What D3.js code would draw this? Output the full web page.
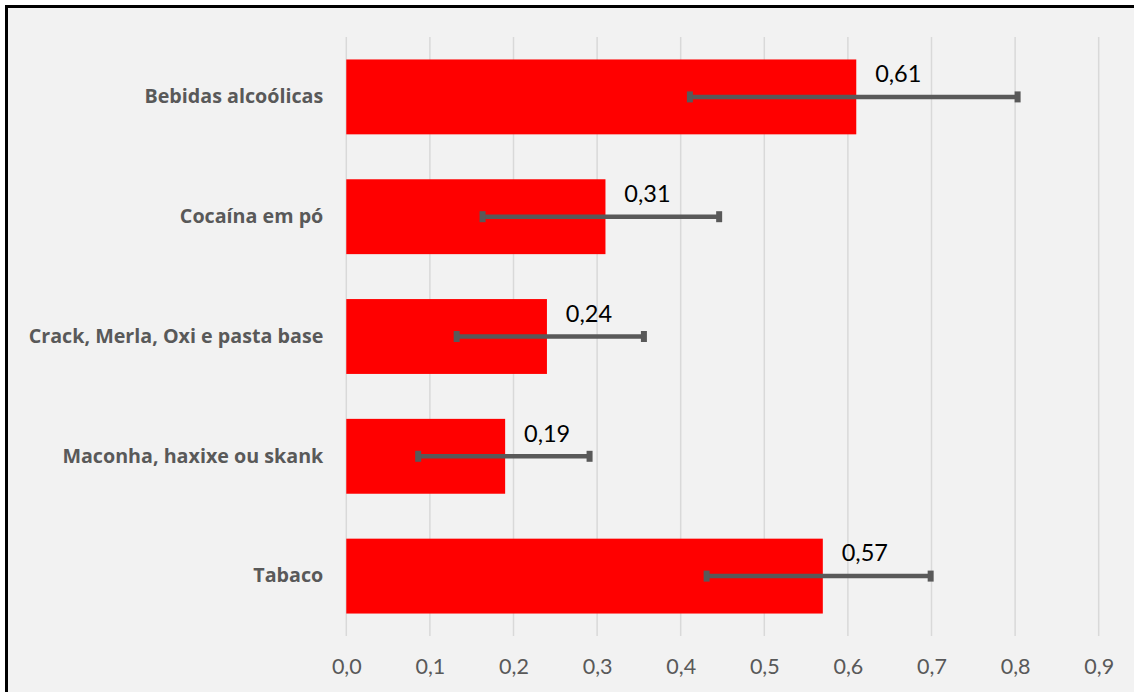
<!DOCTYPE html>
<html><head><meta charset="utf-8">
<script src="https://cdn.jsdelivr.net/npm/d3@7"></script>
<style>html,body{margin:0;padding:0;background:#fff;}svg{display:block;}</style>
</head><body>
<script>
const categories = ["Bebidas alcoólicas","Cocaína em pó","Crack, Merla, Oxi e pasta base","Maconha, haxixe ou skank","Tabaco"];
const values = [0.61, 0.31, 0.24, 0.19, 0.57];
const errLow = [0.411, 0.163, 0.132, 0.086, 0.431];
const errHigh = [0.803, 0.446, 0.356, 0.291, 0.699];
const valueLabels = ["0,61","0,31","0,24","0,19","0,57"];
const ticks = [0,0.1,0.2,0.3,0.4,0.5,0.6,0.7,0.8,0.9];

const W = 1134, H = 692;
const svg = d3.select("body").append("svg").attr("width", W).attr("height", H);
svg.append("rect").attr("x",6.5).attr("y",6.5).attr("width",W).attr("height",H)
  .attr("fill","#f2f2f2").attr("stroke","#000").attr("stroke-width",3);

const x = d3.scaleLinear().domain([0,0.9]).range([346.3,1098.7]);
const y = d3.scaleBand().domain(categories).range([37,636]).paddingInner(0.375).paddingOuter(0.1875);

// gridlines
svg.append("g").selectAll("line").data(ticks).join("line")
  .attr("x1",d=>x(d)).attr("x2",d=>x(d)).attr("y1",37).attr("y2",636)
  .attr("stroke","#d9d9d9").attr("stroke-width",1.5);

// x axis tick labels
const xAxis = d3.axisBottom(x).tickValues(ticks).tickSize(0).tickPadding(0)
  .tickFormat(d => d3.format(".1f")(d).replace(".",","));
const gx = svg.append("g").attr("transform","translate(0,658)").call(xAxis);
gx.select(".domain").remove();
gx.selectAll("text").attr("font-family","Lato, 'Open Sans', sans-serif").attr("font-size",21.5)
  .attr("fill","#595959").attr("dy","0.32em").attr("y",9);

// y axis labels
const yAxis = d3.axisLeft(y).tickSize(0).tickPadding(23);
const gy = svg.append("g").attr("transform","translate(346.3,0)").call(yAxis);
gy.select(".domain").remove();
gy.selectAll("text").attr("font-family","'Open Sans', Lato, sans-serif").attr("font-size",19.7)
  .attr("font-weight","bold").attr("fill","#595959");

// bars
svg.append("g").selectAll("rect").data(categories).join("rect")
  .attr("x",x(0)).attr("y",d=>y(d)).attr("height",y.bandwidth())
  .attr("width",(d,i)=>x(values[i])-x(0)).attr("fill","#ff0000");

// error bars
const eb = svg.append("g").attr("stroke","#595959");
categories.forEach((c,i)=>{
  const cy = y(c)+y.bandwidth()/2;
  eb.append("line").attr("x1",x(errLow[i])).attr("x2",x(errHigh[i])).attr("y1",cy).attr("y2",cy).attr("stroke-width",4.5);
  [errLow[i],errHigh[i]].forEach(v=>{
    eb.append("line").attr("x1",x(v)).attr("x2",x(v)).attr("y1",cy-5.5).attr("y2",cy+5.5).attr("stroke-width",6);
  });
});

// value labels
svg.append("g").selectAll("text").data(categories).join("text")
  .attr("x",(d,i)=>x(values[i])+42).attr("y",d=>y(d)+y.bandwidth()/2-23)
  .attr("text-anchor","middle").attr("dy","0.35em")
  .attr("font-family","Lato, 'Open Sans', sans-serif").attr("font-size",23.5).attr("fill","#000")
  .text((d,i)=>valueLabels[i]);
</script>
</body></html>
